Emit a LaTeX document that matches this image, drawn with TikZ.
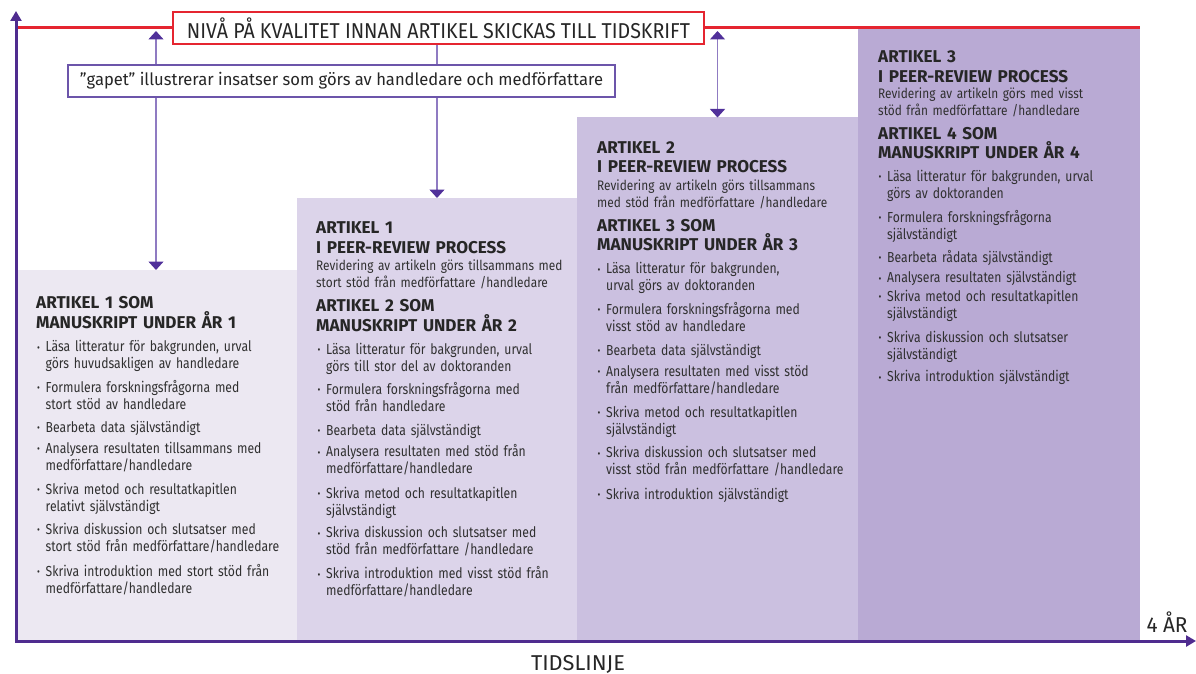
\documentclass[tikz,border=0pt]{standalone}
\usepackage{fontspec}
\setmainfont{Fira Sans}
\newfontfamily\bodyfont{Fira Sans}[FakeStretch=0.84]
\newfontfamily\subfont{Fira Sans}[FakeStretch=0.86]
\usepackage{graphicx}
\usetikzlibrary{arrows.meta}

\definecolor{axcol}{HTML}{4F2C8F}
\definecolor{tipcol}{HTML}{50309A}
\definecolor{lncol}{HTML}{8F7BC2}
\definecolor{boxcol}{HTML}{6C55AA}
\definecolor{redcol}{HTML}{E52530}
\definecolor{colA}{HTML}{ECE8F2}
\definecolor{colB}{HTML}{DCD4EA}
\definecolor{colC}{HTML}{CBC0E0}
\definecolor{colD}{HTML}{B9AAD4}
\definecolor{txtcol}{HTML}{303030}
\definecolor{hdcol}{HTML}{262626}

\newcommand\bul{\makebox[8.5pt][l]{\raisebox{0.8pt}{\scalebox{0.72}{•}}}}
\newcommand\nl{\\\hspace*{8.5pt}}

\tikzset{
 colbox/.style={rectangle, inner sep=0pt, outer sep=0pt, anchor=north west, draw=none},
 headtxt/.style={anchor=base west, inner sep=0pt, text width=300pt, align=left, text=hdcol, font=\fontsize{17.1}{19.4}\selectfont\bfseries},
 subtxt/.style={anchor=base west, inner sep=0pt, text width=300pt, align=left, text=txtcol, font=\subfont\fontsize{13.8}{17}\selectfont},
 itemtxt/.style={anchor=base west, inner sep=0pt, text width=300pt, align=left, text=txtcol, font=\bodyfont\fontsize{14.5}{17}\selectfont},
 dbl/.style={draw=lncol, line width=1.4pt, {Triangle[width=15pt,length=8.5pt,color=tipcol]}-{Triangle[width=15pt,length=8.5pt,color=tipcol]}},
 sgl/.style={draw=lncol, line width=1.4pt, -{Triangle[width=15pt,length=8.5pt,color=tipcol]}},
 axisline/.style={draw=axcol, line width=3pt, {Triangle[width=11pt,length=10pt]}-{Triangle[width=11pt,length=10pt]}},
 redline/.style={draw=redcol, line width=3pt},
 titlebox/.style={draw=redcol, line width=2.5pt, fill=white, minimum width=531pt, minimum height=32pt, inner sep=0pt, text=hdcol},
 gapbox/.style={draw=boxcol, line width=1.2pt, fill=white, minimum width=547pt, minimum height=32pt, inner sep=0pt, text=hdcol},
 lbl/.style={inner sep=0pt, text=hdcol},
}

\newcommand\itm[4]{\node[itemtxt] (#1) at (#2,#3) {\bul#4};}

\begin{document}
\begin{tikzpicture}[x=1pt,y=-1pt]
\useasboundingbox (0,0) rectangle (1196,674);

% columns
\node[colbox, fill=colA, minimum width=282pt, minimum height=371pt] (col1) at (15,270) {};
\node[colbox, fill=colB, minimum width=280pt, minimum height=443pt] (col2) at (297,198) {};
\node[colbox, fill=colC, minimum width=281pt, minimum height=523.5pt] (col3) at (577,117.5) {};
\node[colbox, fill=colD, minimum width=282pt, minimum height=613pt] (col4) at (858,28) {};

% red quality line and title
\coordinate (rl) at (16,28);
\draw[redline] (rl) -- (col4.north east);
\node[titlebox] (title) at (438.5,28) {\fontsize{21.5}{24}\selectfont\resizebox{503pt}{\height}{NIVÅ PÅ KVALITET INNAN ARTIKEL SKICKAS TILL TIDSKRIFT}};

% gap arrows
\coordinate (a1t) at (156,31);
\coordinate (a2t) at (717.5,31);
\draw[dbl] (a1t) -- (col1.north);
\draw[dbl] (a2t) -- (col3.north);
\draw[sgl] (title.south -| col2.north) -- (col2.north);

\node[gapbox] (gap) at (341.5,81) {\fontsize{17}{20}\selectfont\resizebox{523pt}{\height}{”gapet” illustrerar insatser som görs av handledare och medförfattare}};

% column 1
\node[headtxt] (h1) at (36,308.7) {ARTIKEL 1 SOM\\MANUSKRIPT UNDER ÅR 1};
\itm{c1i1}{37}{351.8}{Läsa litteratur för bakgrunden, urval\nl görs huvudsakligen av handledare}
\itm{c1i2}{37}{392.2}{Formulera forskningsfrågorna med\nl stort stöd av handledare}
\itm{c1i3}{37}{432.2}{Bearbeta data självständigt}
\itm{c1i4}{37}{453.5}{Analysera resultaten tillsammans med\nl medförfattare/handledare}
\itm{c1i5}{37}{494.5}{Skriva metod och resultatkapitlen\nl relativt självständigt}
\itm{c1i6}{37}{534.5}{Skriva diskussion och slutsatser med\nl stort stöd från medförfattare/handledare}
\itm{c1i7}{37}{576.2}{Skriva introduktion med stort stöd från\nl medförfattare/handledare}

% column 2
\node[headtxt] (h2a) at (316,233.7) {ARTIKEL 1\\I PEER-REVIEW PROCESS};
\node[subtxt] (s2) at (316,270.2) {Revidering av artikeln görs tillsammans med\\stort stöd från medförfattare /handledare};
\node[headtxt] (h2b) at (316,311.7) {ARTIKEL 2 SOM\\MANUSKRIPT UNDER ÅR 2};
\itm{c2i1}{317.5}{354.5}{Läsa litteratur för bakgrunden, urval\nl görs till stor del av doktoranden}
\itm{c2i2}{317.5}{394.5}{Formulera forskningsfrågorna med\nl stöd från handledare}
\itm{c2i3}{317.5}{435.2}{Bearbeta data självständigt}
\itm{c2i4}{317.5}{456.8}{Analysera resultaten med stöd från\nl medförfattare/handledare}
\itm{c2i5}{317.5}{498.2}{Skriva metod och resultatkapitlen\nl självständigt}
\itm{c2i6}{317.5}{537.8}{Skriva diskussion och slutsatser med\nl stöd från medförfattare /handledare}
\itm{c2i7}{317.5}{578.8}{Skriva introduktion med visst stöd från\nl medförfattare/handledare}

% column 3
\node[headtxt] (h3a) at (597,153.3) {ARTIKEL 2\\I PEER-REVIEW PROCESS};
\node[subtxt] (s3) at (597,190.2) {Revidering av artikeln görs tillsammans\\med stöd från medförfattare /handledare};
\node[headtxt] (h3b) at (597,231) {ARTIKEL 3 SOM\\MANUSKRIPT UNDER ÅR 3};
\itm{c3i1}{597.5}{273.8}{Läsa litteratur för bakgrunden,\nl urval görs av doktoranden}
\itm{c3i2}{597.5}{314.5}{Formulera forskningsfrågorna med\nl visst stöd av handledare}
\itm{c3i3}{597.5}{355.2}{Bearbeta data självständigt}
\itm{c3i4}{597.5}{376.2}{Analysera resultaten med visst stöd\nl från medförfattare/handledare}
\itm{c3i5}{597.5}{417.2}{Skriva metod och resultatkapitlen\nl självständigt}
\itm{c3i6}{597.5}{457.8}{Skriva diskussion och slutsatser med\nl visst stöd från medförfattare /handledare}
\itm{c3i7}{597.5}{499.5}{Skriva introduktion självständigt}

% column 4
\node[headtxt] (h4a) at (878,63) {ARTIKEL 3\\I PEER-REVIEW PROCESS};
\node[subtxt] (s4) at (878,98.8) {Revidering av artikeln görs med visst\\stöd från medförfattare /handledare};
\node[headtxt] (h4b) at (878,139.2) {ARTIKEL 4 SOM\\MANUSKRIPT UNDER ÅR 4};
\itm{c4i1}{878.5}{181.3}{Läsa litteratur för bakgrunden, urval\nl görs av doktoranden}
\itm{c4i2}{878.5}{222.5}{Formulera forskningsfrågorna\nl självständigt}
\itm{c4i3}{878.5}{262.1}{Bearbeta rådata självständigt}
\itm{c4i4}{878.5}{282.9}{Analysera resultaten självständigt}
\itm{c4i5}{878.5}{301.1}{Skriva metod och resultatkapitlen\nl självständigt}
\itm{c4i6}{878.5}{342}{Skriva diskussion och slutsatser\nl självständigt}
\itm{c4i7}{878.5}{381.9}{Skriva introduktion självständigt}

% axes
\coordinate (ytop) at (16,11);
\coordinate (orig) at (16,641);
\coordinate (xend) at (1196,641);
\draw[axisline] (ytop) -- (orig) -- (xend);

\node[lbl] (yrs) at (1167,622.5) {\fontsize{21.5}{24}\selectfont\resizebox{41pt}{\height}{4 ÅR}};
\node[lbl] (tl) at (578,664) {\fontsize{21.5}{24}\selectfont\resizebox{94pt}{\height}{TIDSLINJE}};
\end{tikzpicture}
\end{document}
